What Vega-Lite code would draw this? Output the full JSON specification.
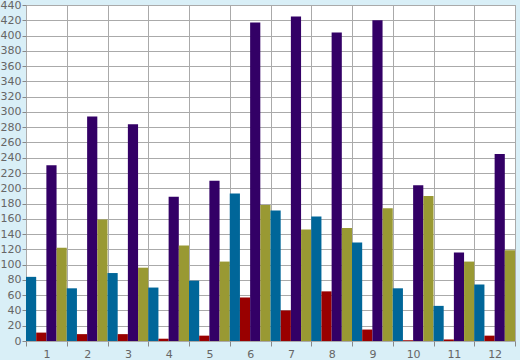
{
  "$schema": "https://vega.github.io/schema/vega-lite/v6.json",
  "width": 489,
  "height": 336,
  "autosize": "none",
  "padding": {"left": 26, "top": 5, "right": 5, "bottom": 19},
  "background": "#d9eff7",
  "config": {
    "view": {"fill": "white", "stroke": "#aaaaaa", "strokeWidth": 1},
    "axis": {
      "labelFont": "DejaVu Sans",
      "labelFontSize": 11,
      "labelColor": "#666666",
      "gridColor": "#aaaaaa",
      "gridOpacity": 1,
      "gridWidth": 1,
      "domain": false,
      "title": null,
      "tickColor": "#888888"
    }
  },
  "data": {
    "values": [
      {"g": 1, "s": "A", "v": 84}, {"g": 1, "s": "B", "v": 11}, {"g": 1, "s": "C", "v": 230}, {"g": 1, "s": "D", "v": 122},
      {"g": 2, "s": "A", "v": 69}, {"g": 2, "s": "B", "v": 9}, {"g": 2, "s": "C", "v": 294}, {"g": 2, "s": "D", "v": 159},
      {"g": 3, "s": "A", "v": 89}, {"g": 3, "s": "B", "v": 9}, {"g": 3, "s": "C", "v": 284}, {"g": 3, "s": "D", "v": 96},
      {"g": 4, "s": "A", "v": 70}, {"g": 4, "s": "B", "v": 3}, {"g": 4, "s": "C", "v": 189}, {"g": 4, "s": "D", "v": 125},
      {"g": 5, "s": "A", "v": 79}, {"g": 5, "s": "B", "v": 7}, {"g": 5, "s": "C", "v": 210}, {"g": 5, "s": "D", "v": 104},
      {"g": 6, "s": "A", "v": 193}, {"g": 6, "s": "B", "v": 57}, {"g": 6, "s": "C", "v": 417}, {"g": 6, "s": "D", "v": 178},
      {"g": 7, "s": "A", "v": 171}, {"g": 7, "s": "B", "v": 40}, {"g": 7, "s": "C", "v": 425}, {"g": 7, "s": "D", "v": 146},
      {"g": 8, "s": "A", "v": 163}, {"g": 8, "s": "B", "v": 65}, {"g": 8, "s": "C", "v": 404}, {"g": 8, "s": "D", "v": 148},
      {"g": 9, "s": "A", "v": 129}, {"g": 9, "s": "B", "v": 15}, {"g": 9, "s": "C", "v": 420}, {"g": 9, "s": "D", "v": 174},
      {"g": 10, "s": "A", "v": 69}, {"g": 10, "s": "B", "v": 1}, {"g": 10, "s": "C", "v": 204}, {"g": 10, "s": "D", "v": 190},
      {"g": 11, "s": "A", "v": 46}, {"g": 11, "s": "B", "v": 2}, {"g": 11, "s": "C", "v": 116}, {"g": 11, "s": "D", "v": 104},
      {"g": 12, "s": "A", "v": 74}, {"g": 12, "s": "B", "v": 7}, {"g": 12, "s": "C", "v": 245}, {"g": 12, "s": "D", "v": 119}
    ]
  },
  "mark": {"type": "bar"},
  "encoding": {
    "x": {
      "field": "g",
      "type": "ordinal",
      "scale": {"paddingInner": 0, "paddingOuter": 0},
      "axis": {
        "labelAngle": 0,
        "tickBand": "extent",
        "grid": true,
        "ticks": true,
        "tickSize": 5,
        "labelPadding": 2
      }
    },
    "xOffset": {
      "field": "s",
      "type": "nominal",
      "sort": ["A", "B", "C", "D"],
      "scale": {"paddingInner": 0, "paddingOuter": 0}
    },
    "y": {
      "field": "v",
      "type": "quantitative",
      "scale": {"domain": [0, 440], "nice": false},
      "axis": {
        "values": [0, 20, 40, 60, 80, 100, 120, 140, 160, 180, 200, 220, 240, 260, 280, 300, 320, 340, 360, 380, 400, 420, 440],
        "grid": true,
        "ticks": true,
        "tickSize": 4,
        "labelPadding": 1
      }
    },
    "color": {
      "field": "s",
      "type": "nominal",
      "scale": {"domain": ["A", "B", "C", "D"], "range": ["#006699", "#990000", "#330066", "#999933"]},
      "legend": null
    }
  }
}
